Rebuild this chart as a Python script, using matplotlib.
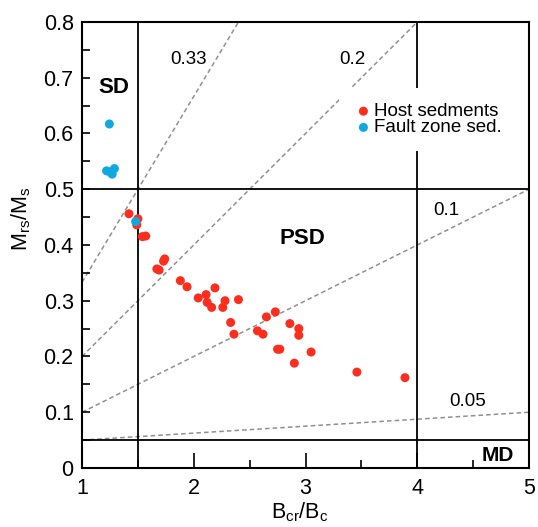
import matplotlib
matplotlib.use("Agg")
import matplotlib.pyplot as plt

plt.rcParams['font.family'] = ['Liberation Sans', 'DejaVu Sans']
plt.rcParams['mathtext.default'] = 'regular'

# Host sediments (red)
host_bcr_bc = [1.42, 1.50, 1.49, 1.54, 1.57, 1.67, 1.69, 1.73, 1.74, 1.88, 1.94,
               2.04, 2.11, 2.19, 2.12, 2.16, 2.28, 2.26, 2.40, 2.33, 2.36, 2.57,
               2.62, 2.65, 2.73, 2.86, 2.94, 2.94, 2.75, 2.77, 3.05, 2.90, 3.46, 3.89]
host_mrs_ms = [0.456, 0.447, 0.436, 0.415, 0.416, 0.357, 0.355, 0.371, 0.375, 0.336, 0.325,
               0.305, 0.311, 0.323, 0.297, 0.288, 0.300, 0.288, 0.302, 0.261, 0.240, 0.246,
               0.240, 0.271, 0.280, 0.259, 0.250, 0.238, 0.213, 0.213, 0.208, 0.188, 0.172, 0.162]

# Fault zone sediments (blue)
fault_bcr_bc = [1.245, 1.22, 1.25, 1.27, 1.29, 1.48]
fault_mrs_ms = [0.617, 0.533, 0.531, 0.527, 0.537, 0.442]

# reference lines (labels, y at x=1 and at x=5)
ratio_labels = ['0.33', '0.2', '0.1', '0.05']
ratio_y1 = [0.333, 0.2, 0.1, 0.05]
ratio_y5 = [1.667, 1.0, 0.5, 0.1]
ratio_label_x = [1.95, 3.42, 4.26, 4.45]
ratio_label_y = [0.732, 0.732, 0.461, 0.119]

# domain boundaries
bound_x = [1.5, 4.0]
bound_y = [0.5, 0.05]

fig = plt.figure(figsize=(5.38, 5.27), dpi=100)
ax = fig.add_axes([0.1524, 0.112, 0.8309, 0.8463])

for y1, y5 in zip(ratio_y1, ratio_y5):
    ax.plot([1, 5], [y1, y5], color='#909090', lw=1.1, ls=(0, (3, 2)), zorder=1)
for lbl, lx, ly in zip(ratio_labels, ratio_label_x, ratio_label_y):
    ax.text(lx, ly, lbl, fontsize=13.5, ha='center', va='center')

for bx in bound_x:
    ax.axvline(bx, color='black', lw=1.3, zorder=2)
for by in bound_y:
    ax.axhline(by, color='black', lw=1.3, zorder=2)

ax.scatter(host_bcr_bc, host_mrs_ms, s=42, color='#ff2d1e', edgecolors='none',
           zorder=3, label='Host sedments')
ax.scatter(fault_bcr_bc, fault_mrs_ms, s=42, color='#11a8e0', edgecolors='none',
           zorder=4, label='Fault zone sed.')

ax.text(1.28, 0.682, 'SD', fontsize=16, fontweight='bold', ha='center', va='center')
ax.text(2.97, 0.412, 'PSD', fontsize=16, fontweight='bold', ha='center', va='center')
ax.text(4.72, 0.022, 'MD', fontsize=15, fontweight='bold', ha='center', va='center')

ax.set_xlim(1, 5)
ax.set_ylim(0, 0.8)
ax.set_xticks([1, 2, 3, 4, 5])
ax.set_xticks([1.5, 2.5, 3.5, 4.5], minor=True)
ax.set_yticks([0, 0.1, 0.2, 0.3, 0.4, 0.5, 0.6, 0.7, 0.8])
ax.set_yticklabels(['0', '0.1', '0.2', '0.3', '0.4', '0.5', '0.6', '0.7', '0.8'])
ax.set_yticks([0.05, 0.15, 0.25, 0.35, 0.45, 0.55, 0.65, 0.75], minor=True)
ax.tick_params(axis='both', which='both', direction='in', labelsize=15.5, width=1.2)
ax.tick_params(axis='x', which='major', length=11, pad=7)
ax.tick_params(axis='x', which='minor', length=6)
ax.tick_params(axis='y', which='both', length=6, pad=6)
for sp in ax.spines.values():
    sp.set_linewidth(1.5)

ax.set_xlabel('$B_{cr}/B_c$', fontsize=15.5, va='center')
ax.set_ylabel('$M_{rs}/M_s$', fontsize=15.5, va='center')
ax.xaxis.set_label_coords(0.488, -0.10)
ax.yaxis.set_label_coords(-0.135, 0.558)

leg = ax.legend(loc='upper left', bbox_to_anchor=(0.575, 0.852), fontsize=13.5,
                frameon=True, facecolor='white', edgecolor='none', framealpha=1,
                handletextpad=0.05, labelspacing=-0.05, borderpad=0.8,
                handlelength=1.0, markerscale=1.0, borderaxespad=0)
leg.set_zorder(5)

fig.savefig('out.png', dpi=100)
